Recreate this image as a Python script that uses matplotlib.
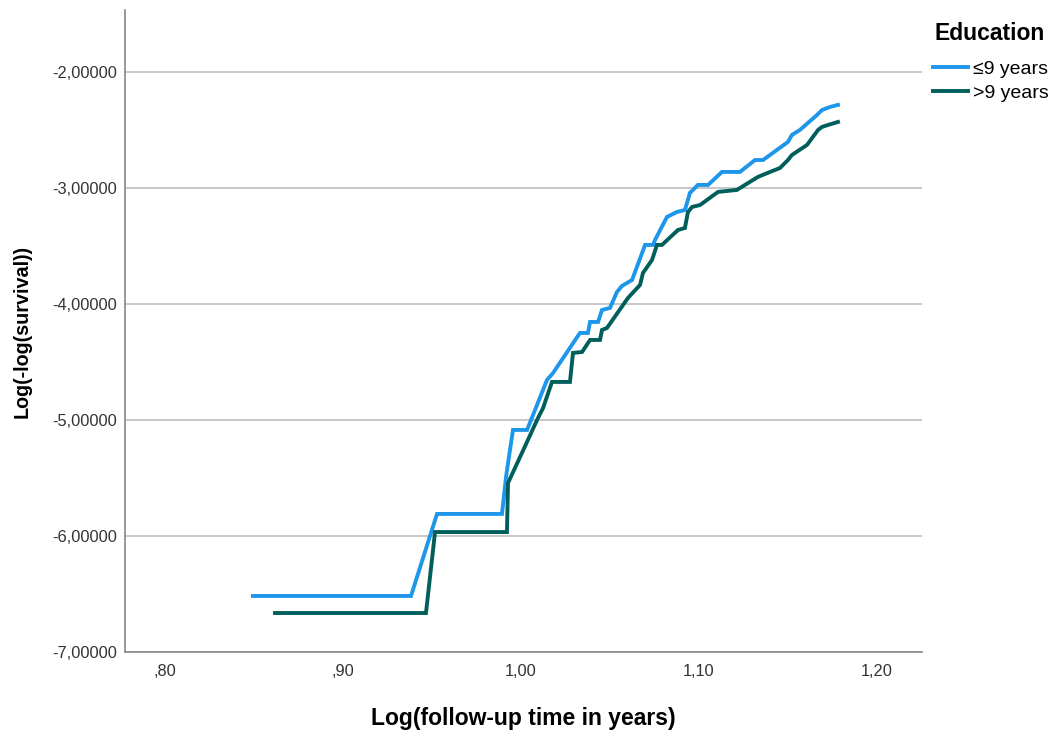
import matplotlib
matplotlib.use("Agg")
from matplotlib import pyplot as plt
from matplotlib.ticker import FuncFormatter

plt.rcParams['font.family'] = ['Liberation Sans', 'DejaVu Sans']

# log(-log(survival)) against log follow-up time, by education group
low_x = [0.8494, 0.9382, 0.9528, 0.9893, 0.9916, 0.9927, 0.9955, 1.0034, 1.0146, 1.0180,
         1.0331, 1.0376, 1.0388, 1.0433, 1.0455, 1.0500, 1.0539, 1.0567, 1.0624, 1.0697,
         1.0742, 1.0753, 1.0820, 1.0876, 1.0921, 1.0949, 1.0994, 1.1051, 1.1129, 1.1230,
         1.1315, 1.1360, 1.1500, 1.1522, 1.1567, 1.1663, 1.1691, 1.1736, 1.1781]
low_y = [-6.517, -6.517, -5.810, -5.810, -5.491, -5.371, -5.086, -5.086, -4.655, -4.595,
         -4.250, -4.250, -4.155, -4.155, -4.052, -4.034, -3.897, -3.845, -3.793, -3.491,
         -3.491, -3.448, -3.250, -3.207, -3.190, -3.043, -2.974, -2.974, -2.862, -2.862,
         -2.759, -2.759, -2.603, -2.543, -2.500, -2.371, -2.328, -2.302, -2.284]

high_x = [0.8618, 0.9466, 0.9517, 0.9921, 0.9927, 1.0039, 1.0090, 1.0124, 1.0174, 1.0275,
          1.0292, 1.0343, 1.0388, 1.0444, 1.0455, 1.0483, 1.0601, 1.0669, 1.0685, 1.0736,
          1.0764, 1.0792, 1.0882, 1.0921, 1.0938, 1.0961, 1.1006, 1.1107, 1.1213, 1.1331,
          1.1399, 1.1455, 1.1500, 1.1522, 1.1607, 1.1669, 1.1691, 1.1725, 1.1781]
high_y = [-6.664, -6.664, -5.966, -5.966, -5.543, -5.172, -5.000, -4.897, -4.672, -4.672,
          -4.422, -4.414, -4.310, -4.310, -4.224, -4.207, -3.948, -3.836, -3.733, -3.621,
          -3.491, -3.491, -3.362, -3.345, -3.207, -3.164, -3.147, -3.034, -3.017, -2.905,
          -2.862, -2.828, -2.759, -2.716, -2.629, -2.500, -2.474, -2.457, -2.431]

x_ticks = [0.80, 0.90, 1.00, 1.10, 1.20]
y_ticks = [-7, -6, -5, -4, -3, -2]

fig = plt.figure(figsize=(10.53, 7.32), dpi=100)
ax = fig.add_axes([125 / 1053, 80 / 732, 797 / 1053, 642 / 732])

ax.plot(low_x, low_y, color='#1e96ea', lw=2.8, label='\u22649 years', solid_joinstyle='miter')
ax.plot(high_x, high_y, color='#005f5b', lw=2.8, label='>9 years', solid_joinstyle='miter')

ax.set_xlim(0.7775, 1.2253)
ax.set_ylim(-7, -1.466)
ax.set_xticks(x_ticks)
ax.set_yticks(y_ticks)


def comma_x(v, pos):
    s = f"{v:.2f}".replace('.', ',')
    return s[1:] if s.startswith('0') else s


ax.xaxis.set_major_formatter(FuncFormatter(comma_x))
ax.yaxis.set_major_formatter(FuncFormatter(lambda v, pos: f"{v:.5f}".replace('.', ',')))
ax.tick_params(length=0, labelsize=11.8, labelcolor='#333333')
ax.tick_params(axis='x', pad=8.5)
ax.tick_params(axis='y', pad=5.8)

ax.grid(axis='y', color='#bdbdbd', lw=1.2)
ax.set_axisbelow(True)
for side in ['top', 'right']:
    ax.spines[side].set_visible(False)
for side in ['left', 'bottom']:
    ax.spines[side].set_color('#888888')
    ax.spines[side].set_linewidth(1.2)

ax.set_xlabel('Log(follow-up time in years)', fontsize=16.5, fontweight='bold', labelpad=20)
ax.set_ylabel('Log(-log(survival))', fontsize=14.2, fontweight='bold', labelpad=15)

# legend title drawn on its own so the gap above the entries can be set freely
fig.text(935 / 1053, 1 - 33 / 732, 'Education', fontsize=16.5, fontweight='bold',
         ha='left', va='center')
fig.legend(loc='upper left', bbox_to_anchor=(933 / 1053, 1 - 60 / 732),
           frameon=False, fontsize=14, handlelength=1.8, handletextpad=0.26,
           labelspacing=0.35, borderaxespad=0, borderpad=0)

plt.savefig('out.png', dpi=100)
